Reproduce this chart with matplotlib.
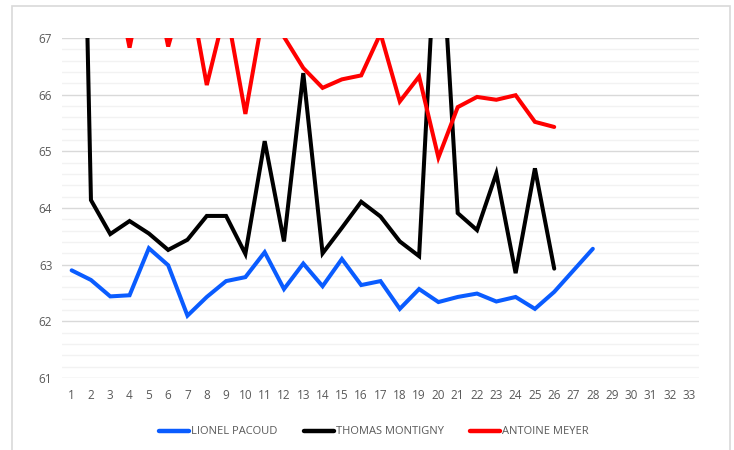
import matplotlib.pyplot as plt
import matplotlib.patches as patches
import numpy as np

# categories 1..33
categories = list(range(1, 34))

lionel = [62.90, 62.73, 62.44, 62.46, 63.29, 62.99, 62.10, 62.43, 62.71, 62.78,
          63.22, 62.57, 63.02, 62.62, 63.10, 62.64, 62.71, 62.22, 62.57, 62.34,
          62.43, 62.49, 62.35, 62.43, 62.22, 62.52, 62.90, 63.28]

thomas = [80.0, 64.14, 63.54, 63.77, 63.55, 63.26, 63.44, 63.86, 63.86, 63.19,
          65.18, 63.41, 66.38, 63.20, 63.65, 64.11, 63.85, 63.41, 63.15, 69.60,
          63.91, 63.61, 64.61, 62.85, 64.70, 62.93]

antoine = [68.2, 68.6, 68.5, 66.83, 68.5, 66.85, 68.05, 66.17, 67.55, 65.66,
           67.58, 67.02, 66.47, 66.12, 66.27, 66.34, 67.08, 65.88, 66.32, 64.89,
           65.78, 65.96, 65.91, 65.99, 65.52, 65.43]

names = ["LIONEL PACOUD", "THOMAS MONTIGNY", "ANTOINE MEYER"]
colors = ["#0a5cff", "#000000", "#ff0000"]

plt.rcParams['font.family'] = ['Open Sans', 'DejaVu Sans']

fig = plt.figure(figsize=(7.34, 4.5), dpi=100)
# outer chart border
fig.patches.append(patches.Rectangle((12 / 734, -0.01), 718 / 734, 1 - 6 / 450 + 0.01,
                                     transform=fig.transFigure, fill=False,
                                     edgecolor="#d9d9d9", linewidth=1.2))

ax = fig.add_axes([62 / 734, 1 - 378 / 450, 637 / 734, 340 / 450])

x = np.arange(len(categories))
for vals, name, c in zip([lionel, thomas, antoine], names, colors):
    ax.plot(x[:len(vals)], vals, color=c, lw=2.9, label=name,
            solid_joinstyle="miter", solid_capstyle="round")

ax.set_xlim(-0.5, len(categories) - 0.5)
ax.set_ylim(61, 67)
ax.set_xticks(x)
ax.set_xticklabels([str(c) for c in categories])
ax.set_yticks(range(61, 68))
ax.set_yticks(np.arange(61, 67.01, 0.2), minor=True)
ax.grid(axis="y", which="major", color="#d9d9d9", lw=1)
ax.grid(axis="y", which="minor", color="#f2f2f2", lw=1)
ax.set_axisbelow(True)
for s in ax.spines.values():
    s.set_visible(False)
ax.tick_params(axis="both", which="both", length=0, labelsize=8.5, colors="#595959")
ax.tick_params(axis="x", pad=8)
ax.tick_params(axis="y", pad=7)

leg = fig.legend(loc="center", bbox_to_anchor=(374 / 734, 1 - 432 / 450), ncol=3,
                 frameon=False, fontsize=8, handlelength=2.7, handletextpad=0.15,
                 columnspacing=2.4)
for t in leg.get_texts():
    t.set_color("#595959")
for h in leg.legend_handles:
    h.set_linewidth(3.2)

fig.savefig("out.png", dpi=100)
